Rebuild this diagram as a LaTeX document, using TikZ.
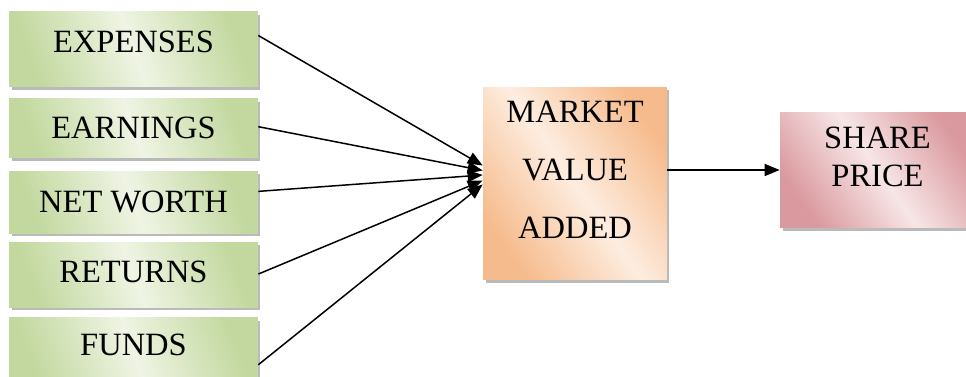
\documentclass[tikz,border=0pt]{standalone}
\usepackage{fontspec}
\setmainfont{Liberation Serif}
\usepackage{xcolor}
\definecolor{cGreenDk}{HTML}{C2D89E}
\definecolor{cGreenLt}{HTML}{EFF4E4}
\definecolor{cOrangeDk}{HTML}{F6BB8C}
\definecolor{cOrangeLt}{HTML}{FDEDE0}
\definecolor{cRoseDk}{HTML}{DA999E}
\definecolor{cRoseLt}{HTML}{F7E6E7}
\usetikzlibrary{positioning, arrows.meta, shadows}

\begin{document}
\begin{tikzpicture}[
    x=0.02cm, y=-0.02cm,
    box/.style={minimum width=4.98cm, align=center, inner sep=0pt,
                font=\fontsize{18.5}{33}\selectfont,
                drop shadow={shadow xshift=0.05cm, shadow yshift=-0.06cm,
                             fill=black!45, opacity=0.6}},
    factor/.style={box, left color=cGreenDk, right color=cGreenDk,
                   middle color=cGreenLt, shading angle=-70},
    mvabox/.style={box, minimum width=3.68cm, minimum height=3.86cm,
                   text depth=0.55cm,
                   left color=cOrangeDk, right color=cOrangeDk,
                   middle color=cOrangeLt, shading angle=-55},
    pricebox/.style={box, minimum width=3.9cm, minimum height=2.32cm,
                     font=\fontsize{18.5}{21.5}\selectfont, text depth=0.52cm,
                     left color=cRoseDk, right color=cRoseDk,
                     middle color=cRoseLt, shading angle=-55},
    arr/.style={-{Triangle[length=0.3cm, width=0.24cm]}, line width=0.85pt},
    node distance=0.2cm
]
\useasboundingbox (0,0) rectangle (966,377);

% five inputs, stacked
\node[factor, minimum height=1.5cm, text depth=0.3cm] (exp) at (133.5,49.5) {EXPENSES};
\node[factor, minimum height=1.18cm, below=0.22cm of exp] (earn) {EARNINGS};
\node[factor, minimum height=1.24cm, below=0.26cm of earn] (worth) {NET WORTH};
\node[factor, minimum height=1.3cm, below=0.16cm of worth, text depth=0.1cm] (ret) {RETURNS};
\node[factor, minimum height=1.4cm, below=0.2cm of ret, text depth=0.32cm] (funds) {FUNDS};

\node[mvabox] (mva) at (575,183.5) {MARKET\\VALUE\\ADDED};
\node[pricebox] (price) at (877.5,170) {SHARE\\PRICE};

\draw[arr] ([yshift=0.28cm]exp.east) -- ([yshift=0.36cm]mva.west);
\draw[arr] ([yshift=0.03cm]earn.east) -- ([yshift=0.26cm]mva.west);
\draw[arr] ([yshift=0.22cm]worth.east) -- ([yshift=0.17cm]mva.west);
\draw[arr] ([yshift=0.01cm]ret.east) -- ([yshift=0.06cm]mva.west);
\draw[arr] ([yshift=-0.24cm]funds.east) -- ([yshift=-0.02cm]mva.west);
\draw[arr] (mva.east |- price.west) -- (price.west);
\end{tikzpicture}
\end{document}
